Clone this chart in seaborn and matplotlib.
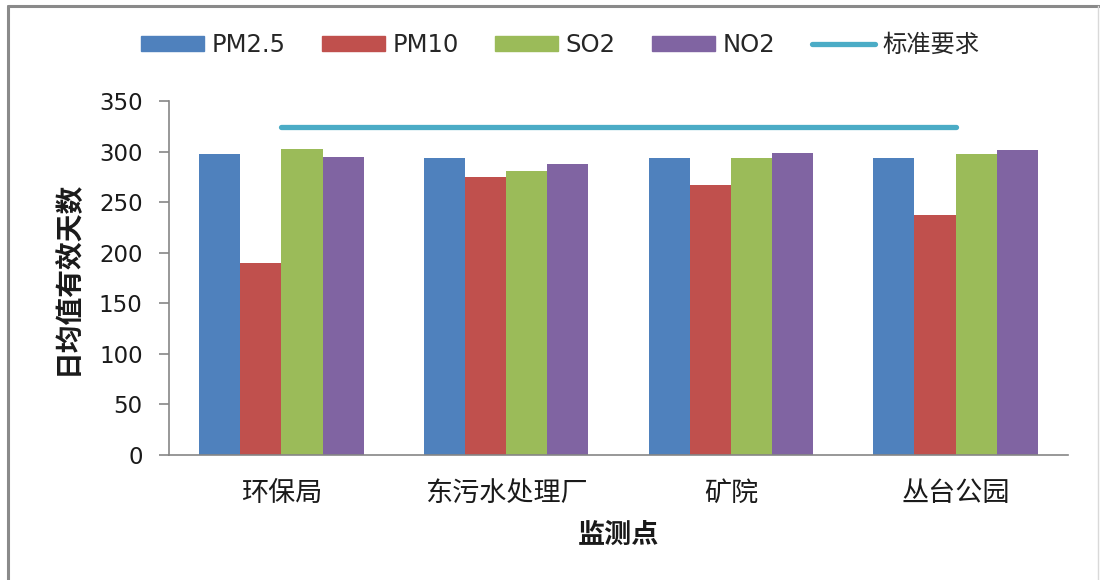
import numpy as np
import pandas as pd
import matplotlib
matplotlib.use("Agg")
import matplotlib.pyplot as plt
from matplotlib.patches import Patch
from matplotlib.lines import Line2D
import seaborn as sns

sites = ["环保局", "东污水处理厂", "矿院", "丛台公园"]
series_names = ["PM2.5", "PM10", "SO2", "NO2"]
pm25 = [298, 294, 294, 294]
pm10 = [190, 275, 267, 237]
so2 = [303, 281, 294, 298]
no2 = [295, 288, 299, 302]
standard = [324, 324, 324, 324]
standard_name = "标准要求"
y_ticks = [0, 50, 100, 150, 200, 250, 300, 350]
colors = ["#4F81BD", "#C0504D", "#9BBB59", "#8064A2"]
line_color = "#4BACC6"

sns.set_theme(style="white")
plt.rcParams["font.family"] = ["DejaVu Sans", "Noto Sans CJK SC"]

df = pd.DataFrame({
    "site": sites * 4,
    "series": np.repeat(series_names, len(sites)),
    "value": pm25 + pm10 + so2 + no2,
})

fig = plt.figure(figsize=(11, 5.8), dpi=100)
ax = fig.add_axes([169 / 1100, 1 - 455 / 580, (1068 - 169) / 1100, (455 - 101) / 580])

sns.barplot(data=df, x="site", y="value", hue="series", order=sites,
            hue_order=series_names, palette=colors, width=0.733,
            saturation=1, linewidth=0, legend=False, ax=ax, errorbar=None)
sns.lineplot(x=np.arange(len(sites)), y=standard, color=line_color, lw=3.8,
             solid_capstyle="round", ax=ax, legend=False)

ax.set_xlim(-0.5, len(sites) - 0.5)
ax.set_ylim(0, 350)
ax.set_yticks(y_ticks)
ax.set_yticklabels([str(v) for v in y_ticks], fontsize=16.5, color="#1a1a1a")
ax.set_xticks(range(len(sites)))
ax.set_xticklabels(sites, fontsize=19.5, color="#1a1a1a",
                   family=["Noto Sans CJK SC"])
ax.set_xticks(np.arange(-0.5, len(sites), 1), minor=True)
ax.tick_params(axis="x", which="major", length=0, pad=18)
ax.tick_params(axis="x", which="minor", length=6, width=1.2, color="#868686", direction="out")
ax.tick_params(axis="y", which="major", length=7, width=1.2, color="#868686", direction="out", pad=12, left=True)

for s in ["top", "right"]:
    ax.spines[s].set_visible(False)
for s in ["left", "bottom"]:
    ax.spines[s].set_color("#868686")
    ax.spines[s].set_linewidth(1.2)

ax.set_xlabel("监测点", fontsize=19.5, fontweight="bold", family=["Noto Sans CJK SC"],
              labelpad=10, color="#1a1a1a")
ax.set_ylabel("日均值有效天数", fontsize=20, fontweight="bold", family=["Noto Sans CJK SC"],
              labelpad=12, color="#1a1a1a")

handles = [Patch(facecolor=c, edgecolor=c) for c in colors]
handles.append(Line2D([0], [0], color=line_color, lw=3.8, solid_capstyle="round"))
labels = series_names + [standard_name]
fig.legend(handles, labels, loc="center", bbox_to_anchor=(560 / 1100, 1 - 45 / 580),
           ncol=5, frameon=False, handlelength=2.6, handleheight=0.6,
           handletextpad=0.3, columnspacing=1.5,
           prop={"family": ["DejaVu Sans", "Noto Sans CJK SC"], "size": 17.5})

# chart frame
fig.add_artist(Line2D([8 / 1100, 8 / 1100], [0, 1 - 6 / 580], transform=fig.transFigure,
                      color="#8a8a8a", lw=2.2))
fig.add_artist(Line2D([8 / 1100, 1099 / 1100], [1 - 6 / 580, 1 - 6 / 580], transform=fig.transFigure,
                      color="#8a8a8a", lw=2.2))
fig.add_artist(Line2D([1098 / 1100, 1098 / 1100], [0, 1 - 6 / 580], transform=fig.transFigure,
                      color="#d9d9d9", lw=1))

fig.savefig("out.png", dpi=100, facecolor="white")
